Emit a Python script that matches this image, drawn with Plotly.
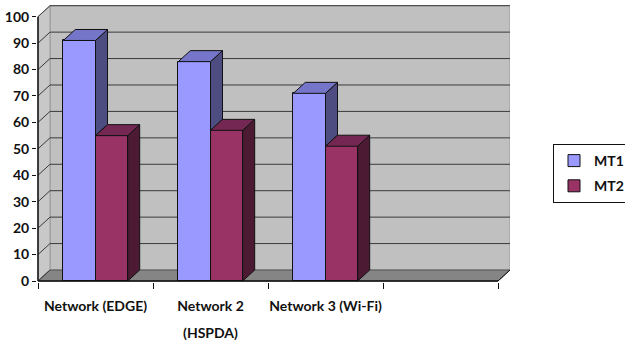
import plotly.graph_objects as go

# ---- data -------------------------------------------------------------
categories = ["Network (EDGE)", "Network 2", "Network 3 (Wi-Fi)"]
category_line2 = ["", "(HSPDA)", ""]
mt1 = [91, 83, 71]
mt2 = [55, 57, 51]
y_ticks = [0, 10, 20, 30, 40, 50, 60, 70, 80, 90, 100]
series_names = ["MT1", "MT2"]

# ---- geometry / style ---------------------------------------------------
W, H = 625, 343
M_L, M_R, M_T, M_B = 37, 115, 5, 61
plot_w = W - M_L - M_R
plot_h = H - M_T - M_B
PX_X = 115.0          # pixels per category slot
PX_Y = 2.643          # pixels per value unit
DEPTH_PX_X, DEPTH_PX_Y = 12, 11
dx = DEPTH_PX_X / PX_X
dy = DEPTH_PX_Y / PX_Y
n_slots = 4
front_l, front_r = -0.5, n_slots - 0.5
y_max = 100
bar_w = 0.28

x_lo = front_l - 1 / PX_X
x_range = [x_lo, x_lo + plot_w / PX_X]
y_lo = -1 / PX_Y
y_range = [y_lo, y_lo + plot_h / PX_Y]

FONT = "Lato"
INK = "#111111"
WALL = "#C0C0C0"
SIDE_WALL = "#C8C8C8"
FLOOR = "#858585"
GRID = "#3a3a3a"

colors = {
    "MT1": {"front": "#9999FF", "top": "#7575C9", "side": "#4D4D82"},
    "MT2": {"front": "#993366", "top": "#742752", "side": "#4D1A33"},
}

fig = go.Figure()

# ---- walls, floor, gridlines (behind everything) -------------------------
shapes = []


def path(points):
    return "M " + " L ".join(f"{x},{y}" for x, y in points) + " Z"


shapes.append(dict(type="path", layer="below", xref="x", yref="y",
                   path=path([(front_l + dx, dy), (front_r + dx, dy),
                              (front_r + dx, y_max + dy), (front_l + dx, y_max + dy)]),
                   fillcolor=WALL, line=dict(color="#9a9a9a", width=1)))
shapes.append(dict(type="path", layer="below", xref="x", yref="y",
                   path=path([(front_l, 0), (front_l + dx, dy),
                              (front_l + dx, y_max + dy), (front_l, y_max)]),
                   fillcolor=SIDE_WALL, line=dict(color="#9a9a9a", width=1)))
shapes.append(dict(type="path", layer="below", xref="x", yref="y",
                   path=path([(front_l, 0), (front_r, 0),
                              (front_r + dx, dy), (front_l + dx, dy)]),
                   fillcolor=FLOOR, line=dict(color="#555555", width=1)))
for v in y_ticks:
    if v > 0:
        shapes.append(dict(type="line", layer="below", xref="x", yref="y",
                           x0=front_l + dx, x1=front_r + dx, y0=v + dy, y1=v + dy,
                           line=dict(color=GRID, width=1)))
    shapes.append(dict(type="line", layer="below", xref="x", yref="y",
                       x0=front_l, x1=front_l + dx, y0=v, y1=v + dy,
                       line=dict(color=GRID, width=1)))
# front edges of the box
shapes.append(dict(type="line", layer="above", xref="x", yref="y",
                   x0=front_l, x1=front_r, y0=0, y1=0, line=dict(color=INK, width=1.5)))
shapes.append(dict(type="line", layer="above", xref="x", yref="y",
                   x0=front_l, x1=front_l, y0=0, y1=y_max, line=dict(color=INK, width=1.5)))
shapes.append(dict(type="line", layer="above", xref="x", yref="y",
                   x0=front_r, x1=front_r + dx, y0=0, y1=dy, line=dict(color=INK, width=1)))

# ---- bars: front faces ---------------------------------------------------
xs = list(range(len(categories)))
offsets = {"MT1": -bar_w, "MT2": 0.0}
values = {"MT1": mt1, "MT2": mt2}
for name in series_names:
    fig.add_trace(go.Bar(
        x=xs, y=values[name], name=name, width=bar_w, offset=offsets[name],
        marker=dict(color=colors[name]["front"], line=dict(color=INK, width=1)),
        legendgroup=name, hoverinfo="skip",
    ))

# ---- bars: top and side faces ----------------------------------------------
for name in series_names:
    tx, ty, sx, sy = [], [], [], []
    for i, v in enumerate(values[name]):
        xl = i + offsets[name]
        xr = xl + bar_w
        tx += [xl, xr, xr + dx, xl + dx, xl, None]
        ty += [v, v, v + dy, v + dy, v, None]
        base = 0
        if name == "MT1":
            # lower part of the side is hidden by the neighbouring MT2 bar
            base = min(mt2[i], v)
        sx += [xr, xr + dx, xr + dx, xr, xr, None]
        sy += [base, base + dy, v + dy, v, base, None]
    fig.add_trace(go.Scatter(x=sx, y=sy, mode="lines", fill="toself",
                             fillcolor=colors[name]["side"],
                             line=dict(color=INK, width=1),
                             showlegend=False, hoverinfo="skip"))
    fig.add_trace(go.Scatter(x=tx, y=ty, mode="lines", fill="toself",
                             fillcolor=colors[name]["top"],
                             line=dict(color=INK, width=1),
                             showlegend=False, hoverinfo="skip"))

# carrier for the second row of category labels
fig.add_trace(go.Scatter(x=[None], y=[None], xaxis="x2", mode="markers",
                         showlegend=False, hoverinfo="skip"))

tick_font = dict(family=FONT, size=14, color=INK, weight="bold")

fig.update_layout(
    width=W, height=H,
    margin=dict(l=M_L, r=M_R, t=M_T, b=M_B),
    paper_bgcolor="white", plot_bgcolor="white",
    shapes=shapes,
    showlegend=True,
    legend=dict(
        xref="container", yref="container",
        x=553 / W, y=1 - 144 / H, xanchor="left", yanchor="top",
        bgcolor="white", bordercolor=INK, borderwidth=1,
        font=dict(family=FONT, size=14, color=INK, weight="bold"),
        tracegroupgap=4, itemwidth=30,
    ),
    xaxis=dict(
        range=x_range, tickmode="array", tickvals=xs, ticktext=categories,
        ticks="", showgrid=False, zeroline=False, showline=False,
        tickfont=tick_font, ticklabelstandoff=14, automargin=False,
        minor=dict(tickmode="array", tickvals=[front_l + k for k in range(n_slots + 1)],
                   ticks="outside", ticklen=6, tickcolor=INK, tickwidth=1, showgrid=False),
    ),
    xaxis2=dict(
        overlaying="x", anchor="y", side="bottom", range=x_range,
        tickmode="array", tickvals=xs, ticktext=category_line2,
        ticks="", showgrid=False, zeroline=False, showline=False,
        tickfont=tick_font, ticklabelstandoff=41, automargin=False,
    ),
    yaxis=dict(
        range=y_range, tickmode="array", tickvals=y_ticks,
        ticks="outside", ticklen=4, tickcolor=INK, tickwidth=1,
        showgrid=False, zeroline=False, showline=False,
        tickfont=tick_font, automargin=False,
    ),
    bargap=0, barmode="overlay",
)

fig.write_html("out.html")
